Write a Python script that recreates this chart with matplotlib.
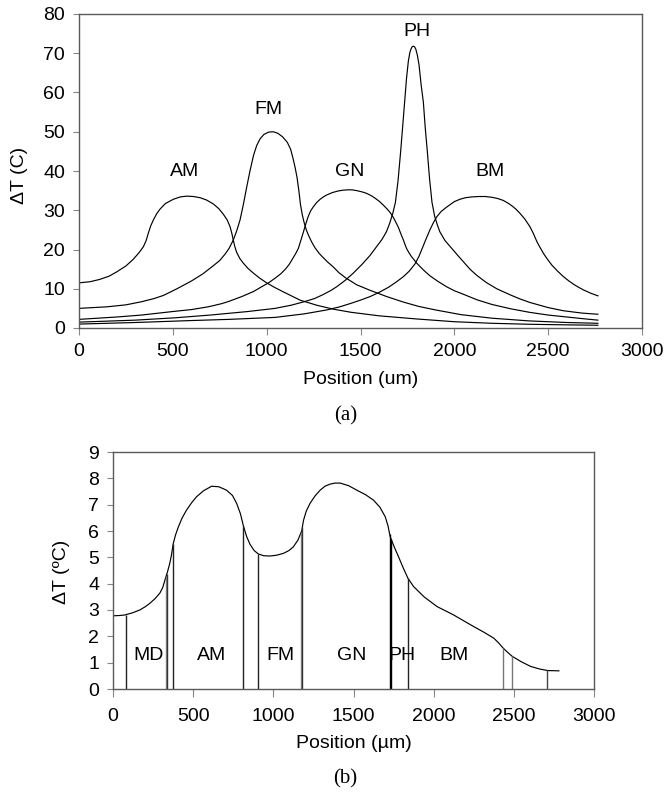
import numpy as np
import matplotlib
matplotlib.use('Agg')
import matplotlib.pyplot as plt

plt.rcParams['font.family'] = ['Liberation Sans', 'DejaVu Sans']

# ---------------- data: panel (a) ----------------
am_x = [0, 60, 112, 160, 201, 250, 289, 320, 343, 358, 369, 382, 396, 415, 432, 460, 503, 540, 574, 610,
        645, 680, 716, 745, 769, 790, 805, 815, 822, 830, 840, 857, 876, 900, 929, 960, 1000, 1040,
        1089, 1178, 1267, 1355, 1450, 1600, 1800, 2000, 2200, 2400, 2600, 2765]
am_y = [11.5, 11.8, 12.4, 13.2, 14.3, 15.8, 17.5, 19.2, 20.7, 22.3, 24.1, 26.0, 27.5, 29.2, 30.3, 31.7,
        32.8, 33.4, 33.6, 33.5, 33.2, 32.6, 31.6, 30.4, 29.0, 27.5, 25.8, 24.0, 22.4, 20.8, 19.3, 17.7,
        16.5, 15.2, 14.0, 12.8, 11.5, 10.4, 9.2, 7.1, 5.8, 4.8, 4.0, 3.1, 2.3, 1.6, 1.2, 0.95, 0.8, 0.7]

fm_x = [0, 150, 250, 334, 400, 450, 522, 600, 660, 714, 750, 778, 800, 822, 840, 858, 876, 894, 911, 930,
        947, 965, 985, 1010, 1035, 1060, 1085, 1110, 1128, 1140, 1152, 1162, 1172, 1180, 1190, 1200, 1212,
        1225, 1240, 1258, 1280, 1300, 1325, 1354, 1385, 1420, 1480, 1551, 1640, 1729, 1810, 1900, 2036,
        2200, 2400, 2600, 2765]
fm_y = [5.0, 5.4, 5.9, 6.7, 7.5, 8.3, 10.0, 12.0, 13.8, 15.8, 17.2, 18.8, 20.3, 22.4, 24.7, 27.5, 31.5,
        36.0, 40.0, 44.0, 46.5, 48.2, 49.3, 49.9, 50.0, 49.6, 48.7, 47.3, 45.5, 43.3, 40.8, 38.3, 34.8,
        31.5, 28.8, 26.8, 24.9, 23.4, 21.9, 20.4, 19.0, 18.0, 16.8, 15.6, 14.1, 12.8, 11.0, 9.6, 8.0, 6.6,
        5.5, 4.6, 3.4, 2.5, 1.8, 1.4, 1.2]

gn_x = [0, 200, 334, 500, 600, 689, 760, 800, 867, 930, 973, 1010, 1045, 1075, 1100, 1120, 1140, 1155,
        1169, 1182, 1196, 1209, 1222, 1235, 1249, 1267, 1285, 1302, 1320, 1350, 1380, 1405, 1430, 1455,
        1480, 1507, 1533, 1558, 1580, 1602, 1622, 1642, 1660, 1677, 1693, 1703, 1711, 1720, 1728, 1737,
        1746, 1758, 1770, 1785, 1800, 1835, 1870, 1915, 1959, 2000, 2048, 2120, 2200, 2300, 2400, 2500,
        2600, 2680, 2765]
gn_y = [2.2, 2.8, 3.3, 4.2, 4.7, 5.4, 6.2, 6.8, 8.0, 9.3, 10.5, 11.5, 12.7, 13.8, 15.0, 16.2, 17.8, 19.0,
        20.3, 22.3, 24.5, 26.6, 28.5, 29.9, 30.9, 32.0, 32.8, 33.4, 33.9, 34.5, 34.9, 35.1, 35.2, 35.2,
        35.0, 34.7, 34.3, 33.7, 33.0, 32.2, 31.3, 30.3, 29.3, 28.0, 26.5, 25.5, 24.5, 23.4, 22.5, 21.3,
        20.2, 19.2, 18.3, 17.4, 16.5, 14.8, 13.3, 11.8, 10.5, 9.5, 8.6, 7.2, 6.0, 4.9, 4.0, 3.3,
        2.8, 2.4, 2.0]

ph_x = [0, 300, 512, 700, 900, 1045, 1130, 1200, 1255, 1300, 1340, 1373, 1420, 1462, 1510, 1551, 1590,
        1615, 1638, 1655, 1672, 1686, 1700, 1714, 1725, 1735, 1745, 1755, 1763, 1770, 1776, 1782, 1789,
        1795, 1803, 1812, 1823, 1835, 1845, 1856, 1868, 1881, 1895, 1910, 1923, 1950, 1975, 1995, 2020,
        2048, 2085, 2120, 2170, 2226, 2300, 2350, 2403, 2500, 2581, 2680, 2765]
ph_y = [1.5, 2.0, 2.6, 3.3, 4.2, 5.0, 5.8, 6.7, 7.5, 8.5, 9.5, 10.5, 12.2, 14.0, 16.3, 18.5, 21.0,
        22.6, 24.5, 26.6, 29.2, 32.0, 37.5, 45.0, 51.5, 57.5, 63.5, 68.0, 70.2, 71.2, 71.7, 71.8, 71.6,
        71.0, 69.5, 67.0, 62.0, 57.5, 51.0, 45.0, 38.0, 32.0, 28.5, 26.2, 24.5, 22.3, 20.9, 19.8, 18.4,
        16.9, 14.9, 13.4, 11.6, 10.0, 8.4, 7.4, 6.5, 5.2, 4.4, 3.8, 3.5]

bm_x = [0, 300, 600, 800, 1045, 1200, 1320, 1390, 1450, 1500, 1551, 1600, 1650, 1690, 1729, 1760, 1790,
        1812, 1835, 1852, 1870, 1888, 1906, 1930, 1959, 2000, 2030, 2060, 2095, 2130, 2165, 2200, 2230,
        2261, 2290, 2310, 2330, 2350, 2375, 2403, 2420, 2440, 2457, 2475, 2495, 2520, 2550, 2581, 2610,
        2640, 2665, 2688, 2730, 2765]
bm_y = [1.0, 1.4, 1.9, 2.2, 2.7, 3.6, 4.6, 5.4, 6.3, 7.1, 8.0, 9.1, 10.4, 11.7, 13.1, 14.5, 16.3,
        18.3, 21.0, 23.0, 25.0, 26.8, 28.3, 29.7, 30.8, 32.2, 32.8, 33.2, 33.4, 33.5, 33.5, 33.3, 33.0,
        32.5, 31.7, 31.0, 30.2, 29.2, 27.8, 25.8, 24.2, 22.0, 20.5, 19.0, 17.6, 16.0, 14.5, 13.1, 12.0,
        11.0, 10.3, 9.7, 8.8, 8.2]

top_names = ['AM', 'FM', 'GN', 'PH', 'BM']
top_label_x = [560, 1012, 1440, 1800, 2190]
top_label_y = [39.9, 55.7, 39.8, 75.5, 39.8]

# ---------------- data: panel (b) ----------------
tot_x = [0, 40, 73, 120, 167, 200, 231, 262, 292, 310, 327, 340, 354, 365, 375, 390, 408, 430, 458, 490,
         521, 565, 615, 660, 708, 745, 771, 795, 813, 833, 854, 880, 906, 940, 979, 1020, 1063, 1098,
         1125, 1153, 1177, 1188, 1205, 1229, 1260, 1292, 1322, 1354, 1385, 1417, 1470, 1521, 1575, 1625,
         1665, 1698, 1715, 1729, 1755, 1781, 1810, 1840, 1875, 1940, 2021, 2125, 2190, 2250, 2315, 2375,
         2405, 2434, 2460, 2490, 2545, 2604, 2660, 2712, 2781]
tot_y = [2.78, 2.79, 2.81, 2.89, 3.0, 3.12, 3.26, 3.43, 3.64, 3.85, 4.2, 4.45, 4.77, 5.1, 5.5, 5.85, 6.16,
         6.48, 6.79, 7.07, 7.30, 7.53, 7.70, 7.68, 7.55, 7.35, 7.05, 6.65, 6.2, 5.8, 5.5, 5.26, 5.13,
         5.06, 5.05, 5.08, 5.15, 5.26, 5.40, 5.65, 6.0, 6.4, 6.75, 7.05, 7.33, 7.55, 7.70, 7.78, 7.82,
         7.82, 7.72, 7.55, 7.38, 7.17, 6.90, 6.54, 6.2, 5.78, 5.38, 5.02, 4.6, 4.20, 3.89, 3.50, 3.13,
         2.81, 2.58, 2.37, 2.15, 1.93, 1.75, 1.55, 1.40, 1.24, 1.04, 0.86, 0.76, 0.70, 0.69]

boundary_x = [79, 329, 335, 376, 813, 907, 1173, 1181, 1726, 1734, 1838, 2431, 2487, 2707]
boundary_color = ['#222222', '#888888', '#333333', '#222222', '#222222', '#222222', '#888888', '#333333',
                  '#000000', '#000000', '#222222', '#777777', '#777777', '#444444']

region_names = ['MD', 'AM', 'FM', 'GN', 'PH', 'BM']
region_label_x = [220, 614, 1044, 1489, 1799, 2128]
region_label_y = [1.28, 1.28, 1.28, 1.28, 1.28, 1.28]

# ---------------- figure ----------------
W, H = 666, 795
fig = plt.figure(figsize=(W / 100, H / 100), dpi=100)


def rect(l, t, r, b):
    return [l / W, 1 - b / H, (r - l) / W, (b - t) / H]


spine_c = '#5a5a5a'
FS = 14


def style(ax, xpad, xlen):
    for s in ax.spines.values():
        s.set_color(spine_c)
        s.set_linewidth(1.0)
    ax.tick_params(axis='x', direction='out', length=xlen, width=0.8, color='#888888',
                   labelsize=FS, pad=xpad)
    ax.tick_params(axis='y', direction='out', length=4, width=0.8, color='#888888',
                   labelsize=FS, pad=6)


# panel (a)
ax1 = fig.add_axes(rect(79, 14, 642, 328))
for xs, ys in [(am_x, am_y), (fm_x, fm_y), (gn_x, gn_y), (ph_x, ph_y), (bm_x, bm_y)]:
    ax1.plot(xs, ys, color='black', lw=0.85, solid_joinstyle='round')
for n, lx, ly in zip(top_names, top_label_x, top_label_y):
    ax1.text(lx, ly, n, ha='center', va='center', fontsize=FS)
ax1.set_xlim(0, 3000)
ax1.set_ylim(0, 80)
ax1.set_xticks(np.arange(0, 3001, 500))
ax1.set_yticks(np.arange(0, 81, 10))
style(ax1, 5.5, 5)
ax1.set_xlabel('Position (um)', fontsize=FS, va='center')
ax1.xaxis.set_label_coords(0.5, (328 - 380) / (328 - 14))
ax1.set_ylabel('ΔT (C)', fontsize=FS, va='center')
ax1.yaxis.set_label_coords((19 - 79) / (642 - 79), (328 - 175) / (328 - 14))

fig.text(346 / W, 1 - 416 / H, '(a)', ha='center', va='center', fontsize=15,
         family=['Liberation Serif', 'DejaVu Serif'])

# panel (b)
ax2 = fig.add_axes(rect(113, 452, 594, 689))
ax2.plot(tot_x, tot_y, color='black', lw=0.85, solid_joinstyle='round')
tops = np.interp(boundary_x, tot_x, tot_y)
for bx, top, c in zip(boundary_x, tops, boundary_color):
    ax2.vlines(bx, 0, top, color=c, lw=1.0)
for n, lx, ly in zip(region_names, region_label_x, region_label_y):
    ax2.text(lx, ly, n, ha='center', va='center', fontsize=FS)
ax2.set_xlim(0, 3000)
ax2.set_ylim(0, 9)
ax2.set_xticks(np.arange(0, 3001, 500))
ax2.set_yticks(np.arange(0, 10, 1))
style(ax2, 8, 6)
ax2.set_xlabel('Position (µm)', fontsize=FS, va='center')
ax2.xaxis.set_label_coords(0.5, (689 - 744) / (689 - 452))
ax2.set_ylabel('ΔT (ºC)', fontsize=FS, va='center')
ax2.yaxis.set_label_coords((62 - 113) / (594 - 113), (689 - 572) / (689 - 452))

fig.text(345 / W, 1 - 779 / H, '(b)', ha='center', va='center', fontsize=15,
         family=['Liberation Serif', 'DejaVu Serif'])

fig.savefig('out.png', dpi=100)
